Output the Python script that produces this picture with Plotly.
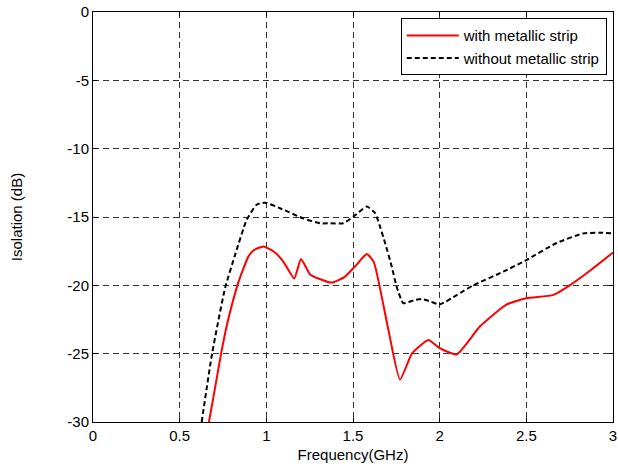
import plotly.graph_objects as go

# Data
freq_with = [0.669, 0.70, 0.739, 0.771, 0.80, 0.833, 0.867, 0.896, 0.925, 0.983, 1.05, 1.10, 1.161,
             1.20, 1.252, 1.30, 1.377, 1.45, 1.52, 1.579, 1.62, 1.70, 1.771, 1.84, 1.935,
             2.0, 2.098, 2.233, 2.387, 2.5, 2.656, 2.75, 2.88, 3.0]
iso_with = [-30.0, -27.8, -25.0, -23.0, -21.5, -20.0, -18.8, -17.9, -17.45, -17.15, -17.6, -18.3, -19.5,
            -18.07, -19.2, -19.5, -19.8, -19.4, -18.5, -17.7, -18.3, -23.0, -26.9, -25.0, -24.0,
            -24.6, -25.05, -23.0, -21.4, -20.95, -20.7, -20.0, -18.8, -17.6]

freq_without = [0.627, 0.687, 0.762, 0.819, 0.887, 0.944, 0.992, 1.079, 1.213, 1.31, 1.367,
                1.444, 1.502, 1.579, 1.627, 1.656, 1.685, 1.723, 1.752, 1.79, 1.85, 1.896,
                1.95, 2.0, 2.1, 2.194, 2.367, 2.5, 2.675, 2.829, 2.92, 3.0]
iso_without = [-30.0, -25.0, -20.2, -17.8, -15.2, -14.1, -13.95, -14.36, -15.1, -15.46, -15.46,
               -15.46, -14.97, -14.24, -14.7, -15.7, -16.9, -18.6, -20.1, -21.3, -21.1, -21.0,
               -21.2, -21.4, -20.7, -20.0, -19.0, -18.15, -16.9, -16.2, -16.15, -16.2]

x_ticks = [0, 0.5, 1, 1.5, 2, 2.5, 3]
x_tick_labels = ["0", "0.5", "1", "1.5", "2", "2.5", "3"]
y_ticks = [-30, -25, -20, -15, -10, -5, 0]
y_tick_labels = ["-30", "-25", "-20", "-15", "-10", "-5", "0"]

fig = go.Figure()
fig.add_trace(go.Scatter(
    x=freq_with, y=iso_with, mode="lines", name="with metallic strip",
    line=dict(color="#ff0000", width=2, shape="spline", smoothing=0.5)))
fig.add_trace(go.Scatter(
    x=freq_without, y=iso_without, mode="lines", name="without metallic strip",
    line=dict(color="#000000", width=2, dash="5px,3px", shape="spline", smoothing=0.5)))

font_family = "Liberation Sans, Arial, sans-serif"
axis_common = dict(
    showline=True, linecolor="black", linewidth=1, mirror="ticks",
    ticks="inside", ticklen=4, tickcolor="black",
    showgrid=True, gridcolor="#333333", gridwidth=1, griddash="6px,4px",
    zeroline=False, automargin=False,
    tickfont=dict(size=15, color="black", family=font_family),
)

fig.update_layout(
    width=618, height=469,
    margin=dict(l=93, r=5, t=12, b=47),
    paper_bgcolor="white", plot_bgcolor="white",
    font=dict(family=font_family, size=15, color="black"),
    xaxis=dict(range=[0, 3], tickvals=x_ticks, ticktext=x_tick_labels,
               title=dict(text="Frequency(GHz)", font=dict(size=15), standoff=6),
               **axis_common),
    yaxis=dict(range=[-30, 0], tickvals=y_ticks, ticktext=y_tick_labels,
               title=dict(text="Isolation (dB)", font=dict(size=15), standoff=41),
               **axis_common),
    legend=dict(x=0.988, y=0.985, xanchor="right", yanchor="top",
                bgcolor="white", bordercolor="black", borderwidth=1,
                font=dict(size=15, color="black"), itemwidth=52,
                tracegroupgap=0),
    showlegend=True,
)

fig.write_html("out.html", config={"displayModeBar": False},
               post_script="document.body.style.margin='0';")
